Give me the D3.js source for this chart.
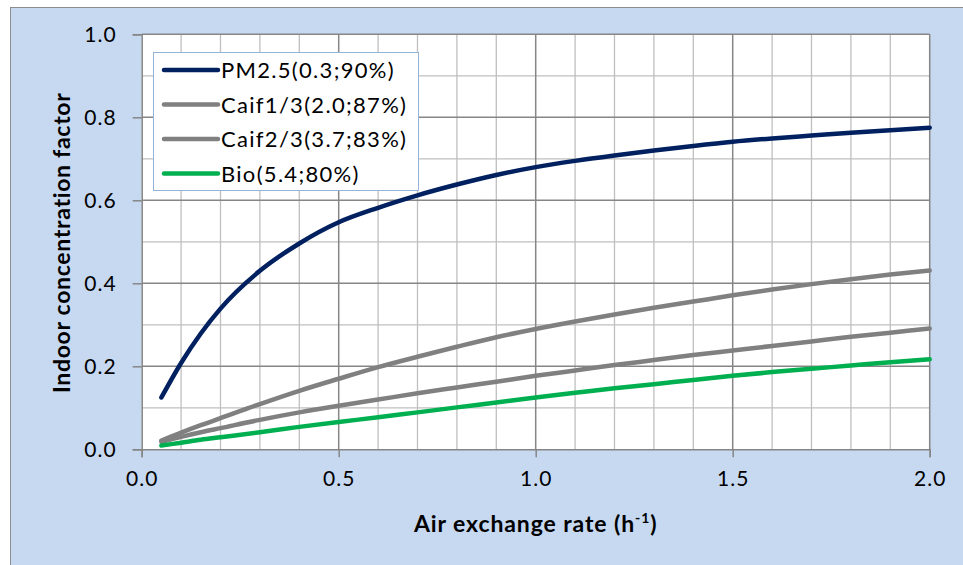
<!DOCTYPE html>
<html><head><meta charset="utf-8">
<script src="https://cdn.jsdelivr.net/npm/d3@7/dist/d3.min.js"></script>
<style>body{margin:0;background:#fff}svg{display:block}text{font-family:Lato,"Open Sans",sans-serif}</style>
</head><body>
<svg id="c" width="963" height="565"></svg>
<script>
// Data
const xValues = [0.05,0.1,0.15,0.2,0.3,0.4,0.5,0.6,0.7,0.8,0.9,1.0,1.1,1.2,1.3,1.4,1.5,1.6,1.7,1.8,1.9,2.0];
const pm25   = [0.125,0.208,0.279,0.339,0.430,0.496,0.547,0.582,0.612,0.638,0.661,0.680,0.695,0.708,0.720,0.731,0.741,0.749,0.756,0.763,0.769,0.775];
const caif13 = [0.021,0.040,0.058,0.075,0.109,0.141,0.170,0.198,0.223,0.247,0.270,0.290,0.308,0.325,0.341,0.356,0.371,0.385,0.398,0.410,0.421,0.431];
const caif23 = [0.018,0.030,0.041,0.051,0.071,0.089,0.105,0.120,0.135,0.149,0.163,0.177,0.190,0.203,0.215,0.227,0.238,0.249,0.260,0.271,0.281,0.291];
const bio    = [0.009,0.016,0.023,0.029,0.041,0.054,0.066,0.077,0.089,0.101,0.113,0.125,0.136,0.147,0.157,0.167,0.177,0.186,0.194,0.202,0.210,0.217];
const seriesNames = ["PM2.5(0.3;90%)","Caif1/3(2.0;87%)","Caif2/3(3.7;83%)","Bio(5.4;80%)"];
const seriesColors = ["#002060","#808080","#808080","#00b050"];
const xTicks = [0,0.5,1.0,1.5,2.0];
const yTicks = [0,0.2,0.4,0.6,0.8,1.0];
const xTitle = "Air exchange rate (h";
const yTitle = "Indoor concentration factor";

const series = [pm25,caif13,caif23,bio];
const svg = d3.select("#c");
// chart area
svg.append("rect").attr("x",10.5).attr("y",7.5).attr("width",970).attr("height",600)
  .attr("fill","#c6d9f1").attr("stroke","#8c8c8c").attr("stroke-width",1);

const L=141.7,R=929.7,T=34.3,B=449.3;
const x = d3.scaleLinear().domain([0,2]).range([L,R]);
const y = d3.scaleLinear().domain([0,1]).range([B,T]);

svg.append("rect").attr("x",L).attr("y",T).attr("width",R-L).attr("height",B-T).attr("fill","#fff");

const minorX = d3.range(0,21).map(i=>i/10).filter(v=>Math.round(v*10)%5!==0);
const majorX = [0.5,1.0,1.5];
const minorY = d3.range(0,11).map(i=>i/10).filter(v=>Math.round(v*10)%2!==0);
const majorY = [0.2,0.4,0.6,0.8];
const g = svg.append("g");
g.selectAll(".mx").data(minorX).join("line").attr("x1",d=>x(d)).attr("x2",d=>x(d)).attr("y1",T).attr("y2",B)
  .attr("stroke","#bfbfbf").attr("stroke-width",1.3);
g.selectAll(".my").data(minorY).join("line").attr("y1",d=>y(d)).attr("y2",d=>y(d)).attr("x1",L).attr("x2",R)
  .attr("stroke","#bfbfbf").attr("stroke-width",1.3);
g.selectAll(".Mx").data(majorX).join("line").attr("x1",d=>x(d)).attr("x2",d=>x(d)).attr("y1",T).attr("y2",B)
  .attr("stroke","#868686").attr("stroke-width",1.5);
g.selectAll(".My").data(majorY).join("line").attr("y1",d=>y(d)).attr("y2",d=>y(d)).attr("x1",L).attr("x2",R)
  .attr("stroke","#868686").attr("stroke-width",1.5);
// plot border top/right
g.append("line").attr("x1",L).attr("x2",R).attr("y1",T).attr("y2",T).attr("stroke","#868686").attr("stroke-width",1.5);
g.append("line").attr("x1",R).attr("x2",R).attr("y1",T).attr("y2",B).attr("stroke","#868686").attr("stroke-width",1.5);

// axes
const xAxis = d3.axisBottom(x).tickValues(xTicks).tickFormat(d3.format(".1f")).tickSize(8).tickPadding(14);
const yAxis = d3.axisLeft(y).tickValues(yTicks).tickFormat(d3.format(".1f")).tickSize(9).tickPadding(16);
const gx = svg.append("g").attr("transform",`translate(0,${B})`).call(xAxis);
const gy = svg.append("g").attr("transform",`translate(${L},0)`).call(yAxis);
[gx,gy].forEach(a=>{
  a.select(".domain").attr("stroke","#868686").attr("stroke-width",1.5);
  a.selectAll(".tick line").attr("stroke","#868686").attr("stroke-width",1.5);
  a.selectAll(".tick text").attr("fill","#000").attr("font-size",21).attr("letter-spacing","1px")
    .attr("font-family","Lato");
});
gx.selectAll(".tick text").attr("dy","0.71em");
gy.selectAll(".tick text").attr("dy","0.35em");

// lines
const line = d3.line().x((d,i)=>x(xValues[i])).y(d=>y(d)).curve(d3.curveMonotoneX);
series.forEach((s,k)=>{
  svg.append("path").datum(s).attr("d",line).attr("fill","none").attr("stroke",seriesColors[k])
    .attr("stroke-width",4.5).attr("stroke-linecap","round").attr("stroke-linejoin","round");
});

// legend
const lg = svg.append("g");
lg.append("rect").attr("x",153.5).attr("y",52.5).attr("width",265).attr("height",138)
  .attr("fill","#fff").attr("stroke","#95b3d7").attr("stroke-width",1);
seriesNames.forEach((n,k)=>{
  const yy = 70 + k*34.5;
  lg.append("line").attr("x1",164).attr("x2",218).attr("y1",yy).attr("y2",yy)
    .attr("stroke",seriesColors[k]).attr("stroke-width",4.5).attr("stroke-linecap","round");
  lg.append("text").attr("x",221).attr("y",yy+8).attr("font-size",22).attr("letter-spacing","1.3px").text(n);
});

// titles
const xt = svg.append("text").attr("x",(L+R)/2).attr("y",532).attr("text-anchor","middle")
  .attr("font-size",23).attr("font-weight","bold").attr("letter-spacing","0.9px");
xt.append("tspan").text(xTitle);
xt.append("tspan").attr("font-size",14).attr("dy",-9).text("-1");
xt.append("tspan").attr("dy",9).text(")");
svg.append("text").attr("transform",`translate(70,${(T+B)/2+1}) rotate(-90)`).attr("text-anchor","middle")
  .attr("font-size",23).attr("font-weight","bold").attr("letter-spacing","0.7px").text(yTitle);
</script>
</body></html>
